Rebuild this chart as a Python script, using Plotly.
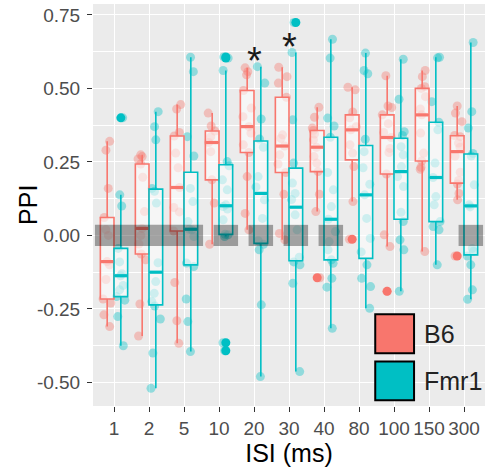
import numpy as np
import plotly.graph_objects as go

# Inter-stimulus intervals (ms), in plotting order
isi_labels = ["1", "2", "5", "10", "20", "30", "40", "80", "100", "150", "300"]

# Prepulse inhibition per animal, one list per ISI
b6_ppi = [
    [0.32, 0.29, 0.16, 0.061, 0.02, 0.0, -0.089, -0.10, -0.15, -0.216, -0.23, -0.27, -0.31],
    [0.274, 0.268, 0.26, 0.243, 0.198, 0.081, 0.024, 0.0, -0.029, -0.063, -0.083, -0.233, -0.342],
    [0.445, 0.43, 0.35, 0.338, 0.28, 0.23, 0.163, 0.095, 0.08, 0.015, -0.16, -0.29, -0.367],
    [0.416, 0.372, 0.355, 0.336, 0.316, 0.285, 0.189, 0.11, -0.03],
    [0.57, 0.557, 0.546, 0.493, 0.433, 0.404, 0.37, 0.348, 0.308, 0.282, 0.20, 0.075, 0.019],
    [0.572, 0.54, 0.518, 0.47, 0.342, 0.33, 0.304, 0.274, 0.243, 0.214, 0.14, 0.007, -0.015],
    [0.436, 0.402, 0.365, 0.357, 0.345, 0.325, 0.30, 0.268, 0.246, 0.217, 0.14, 0.081, -0.144],
    [0.504, 0.495, 0.42, 0.40, 0.37, 0.359, 0.308, 0.28, 0.234, 0.115, -0.013],
    [0.543, 0.44, 0.435, 0.41, 0.38, 0.35, 0.333, 0.296, 0.282, 0.209, 0.002, -0.038, -0.19],
    [0.561, 0.54, 0.506, 0.50, 0.472, 0.43, 0.41, 0.348, 0.28, 0.253, 0.232, 0.225, -0.055],
    [0.44, 0.416, 0.387, 0.34, 0.336, 0.314, 0.30, 0.27, 0.215, 0.187, 0.175, 0.143, 0.121, -0.07],
]
fmr1_ppi = [
    [0.40, 0.138, 0.10, -0.044, -0.09, -0.13, -0.137, -0.17, -0.185, -0.208, -0.22, -0.276, -0.375],
    [0.421, 0.37, 0.325, 0.16, 0.15, 0.11, -0.093, -0.157, -0.197, -0.225, -0.24, -0.284, -0.40, -0.52],
    [0.606, 0.557, 0.336, 0.27, 0.16, 0.115, 0.047, 0.021, 0.019, -0.004, -0.094, -0.106, -0.216, -0.293, -0.395],
    [0.607, 0.603, 0.561, 0.251, 0.237, 0.189, 0.155, 0.104, 0.098, 0.09, 0.053, 0.004, 0.002, -0.004, -0.365, -0.392],
    [0.574, 0.518, 0.396, 0.328, 0.30, 0.20, 0.165, 0.121, 0.058, -0.018, -0.03, -0.049, -0.236, -0.48],
    [0.724, 0.622, 0.393, 0.246, 0.178, 0.143, 0.122, 0.07, 0.019, -0.074, -0.09, -0.10, -0.163, -0.463],
    [0.667, 0.603, 0.399, 0.372, 0.334, 0.214, 0.155, 0.098, 0.055, 0.013, -0.021, -0.049, -0.083, -0.095, -0.146, -0.176, -0.316],
    [0.62, 0.561, 0.55, 0.327, 0.285, 0.23, 0.174, 0.138, 0.058, -0.01, -0.056, -0.10, -0.146, -0.174, -0.248],
    [0.599, 0.463, 0.353, 0.34, 0.302, 0.274, 0.234, 0.20, 0.166, 0.079, 0.047, -0.015, -0.049, -0.19],
    [0.606, 0.604, 0.455, 0.385, 0.359, 0.246, 0.197, 0.132, 0.104, 0.047, 0.03, 0.019, -0.10],
    [0.656, 0.421, 0.365, 0.279, 0.27, 0.172, 0.104, 0.097, -0.044, -0.054, -0.07, -0.10, -0.185, -0.217],
]

# ISIs where PPI is not different from zero, per genotype
ns_b6 = ["1", "2", "5"]
ns_fmr1 = ["1", "2", "5", "10", "20", "30", "40", "300"]
# ISIs with a significant genotype difference
sig_isi = ["20", "30"]

B6_COLOR = "#F8766D"
FMR1_COLOR = "#00BFC4"
FONT = "Liberation Sans, Arial, sans-serif"
BOX_GAP = 0.22
HALF_W = (1 - BOX_GAP) / 4          # half box width == dodge offset
NS_HALF = 0.35                      # half width of the "n.s." band
NS_HALF_H = 0.036

groups = [("B6", b6_ppi, B6_COLOR, -1), ("Fmr1", fmr1_ppi, FMR1_COLOR, 1)]


def box_stats(vals):
    """Tukey box statistics with type-7 quantiles."""
    v = np.asarray(vals, dtype=float)
    q1, med, q3 = np.percentile(v, [25, 50, 75])
    iqr = q3 - q1
    lo_lim, hi_lim = q1 - 1.5 * iqr, q3 + 1.5 * iqr
    inside = v[(v >= lo_lim) & (v <= hi_lim)]
    outl = v[(v < lo_lim) | (v > hi_lim)]
    return dict(q1=q1, median=med, q3=q3, lo=inside.min(), hi=inside.max(),
                outliers=list(outl))


def long_form(series):
    xs, ys = [], []
    for lab, vals in zip(isi_labels, series):
        xs += [lab] * len(vals)
        ys += vals
    return xs, ys


fig = go.Figure()
stats = {name: [box_stats(v) for v in series] for name, series, _, _ in groups}

# jittered individual animals (drawn first so the boxes sit on top)
for name, series, color, side in groups:
    xs, ys = long_form(series)
    fig.add_trace(go.Box(
        x=xs, y=ys, name=name, offsetgroup=name,
        boxpoints="all", jitter=0.75, pointpos=0,
        marker=dict(color=color, size=9, opacity=0.38, line=dict(width=0)),
        line=dict(width=0, color=color), fillcolor="rgba(0,0,0,0)",
        whiskerwidth=0, showlegend=False, hoverinfo="skip",
    ))

# boxes
for name, series, color, side in groups:
    st = stats[name]
    fig.add_trace(go.Box(
        x=isi_labels, name=name, offsetgroup=name,
        q1=[s["q1"] for s in st], median=[s["median"] for s in st],
        q3=[s["q3"] for s in st],
        lowerfence=[s["lo"] for s in st], upperfence=[s["hi"] for s in st],
        boxpoints=False,
        line=dict(width=1.6, color=color), fillcolor="rgba(255,255,255,0.55)",
        whiskerwidth=0, showlegend=False,
    ))

# solid outliers at the box centre
for name, series, color, side in groups:
    ox, oy = [], []
    for lab, s in zip(isi_labels, stats[name]):
        ox += [lab] * len(s["outliers"])
        oy += s["outliers"]
    fig.add_trace(go.Box(
        x=ox, y=oy, name=name, offsetgroup=name,
        boxpoints="all", jitter=0, pointpos=0,
        marker=dict(color=color, size=9, opacity=1, line=dict(width=0)),
        line=dict(width=0, color=color), fillcolor="rgba(0,0,0,0)",
        whiskerwidth=0, showlegend=False, hoverinfo="skip",
    ))

shapes = []
# thicker median bars
for name, series, color, side in groups:
    for i, s in enumerate(stats[name]):
        c = i + side * HALF_W
        shapes.append(dict(type="line", xref="x", yref="y",
                           x0=c - HALF_W + 0.02, x1=c + HALF_W - 0.02,
                           y0=s["median"], y1=s["median"],
                           line=dict(color=color, width=3.2), layer="above"))

# grey bands marking PPI not different from zero (merged where they touch)
spans = []
for labels, side in ((ns_b6, -1), (ns_fmr1, 1)):
    for lab in labels:
        c = isi_labels.index(lab) + side * HALF_W
        spans.append([c - NS_HALF, c + NS_HALF])
spans.sort()
merged = []
for s in spans:
    if merged and s[0] <= merged[-1][1]:
        merged[-1][1] = max(merged[-1][1], s[1])
    else:
        merged.append(list(s))
for x0, x1 in merged:
    shapes.append(dict(type="rect", xref="x", yref="y", x0=x0, x1=x1,
                       y0=-NS_HALF_H, y1=NS_HALF_H, fillcolor="rgba(0,0,0,0.34)",
                       line=dict(width=0), layer="above"))

annotations = []
for lab in sig_isi:
    i = isi_labels.index(lab)
    top = max(stats["B6"][i]["hi"], stats["Fmr1"][i]["hi"])
    annotations.append(dict(x=i, y=top + 0.045, xref="x", yref="y", text="*",
                            showarrow=False, yanchor="middle", yshift=-8,
                            font=dict(family=FONT, size=38, color="#1a1a1a")))

# legend keys drawn inside the panel
legend_items = [("B6", B6_COLOR), ("Fmr1", FMR1_COLOR)]
key_x0, key_x1 = 0.72, 0.819
key_top, key_h, key_step = 0.228, 0.097, 0.117
for k, (lab, color) in enumerate(legend_items):
    y1 = key_top - k * key_step
    y0 = y1 - key_h
    shapes.append(dict(type="rect", xref="paper", yref="paper", x0=key_x0, x1=key_x1,
                       y0=y0, y1=y1, fillcolor=color, line=dict(color="black", width=2),
                       layer="above"))
    annotations.append(dict(x=0.84, y=(y0 + y1) / 2, xref="paper", yref="paper",
                            text=lab, showarrow=False, xanchor="left", yanchor="middle",
                            font=dict(family=FONT, size=25, color="#222222")))

# y axis title
annotations.append(dict(x=-0.166, y=0.5, xref="paper", yref="paper", text="PPI",
                        textangle=-90, showarrow=False, xanchor="center", yanchor="middle",
                        font=dict(family=FONT, size=25, color="black")))

fig.update_layout(
    width=485, height=474,
    margin=dict(l=93, r=0, t=4, b=68),
    paper_bgcolor="white", plot_bgcolor="#EBEBEB",
    boxmode="group", boxgap=BOX_GAP, boxgroupgap=0,
    shapes=shapes, annotations=annotations,
    font=dict(family=FONT),
    showlegend=False,
)
fig.update_xaxes(
    type="category", categoryorder="array", categoryarray=isi_labels,
    range=[-0.6, len(isi_labels) - 0.4],
    showgrid=True, gridcolor="white", gridwidth=1.3, zeroline=False,
    ticks="outside", ticklen=5, tickwidth=1.1, tickcolor="#333333", tickangle=0,
    tickfont=dict(family=FONT, size=19, color="#4D4D4D"),
    title=dict(text="ISI (ms)", standoff=6, font=dict(family=FONT, size=25, color="black")),
)
yt = [-0.5, -0.25, 0.0, 0.25, 0.5, 0.75]
fig.update_yaxes(
    range=[-0.58, 0.787],
    tickvals=yt, ticktext=[f"{v:.2f}" for v in yt],
    showgrid=True, gridcolor="white", gridwidth=1.3, zeroline=False,
    ticks="outside", ticklen=5, tickwidth=1.1, tickcolor="#333333",
    ticklabelstandoff=3,
    tickfont=dict(family=FONT, size=19, color="#4D4D4D"),
    minor=dict(tickvals=[-0.375, -0.125, 0.125, 0.375, 0.625], showgrid=True,
               gridcolor="white", gridwidth=0.6, ticklen=0),
)

fig.write_html("out.html")
